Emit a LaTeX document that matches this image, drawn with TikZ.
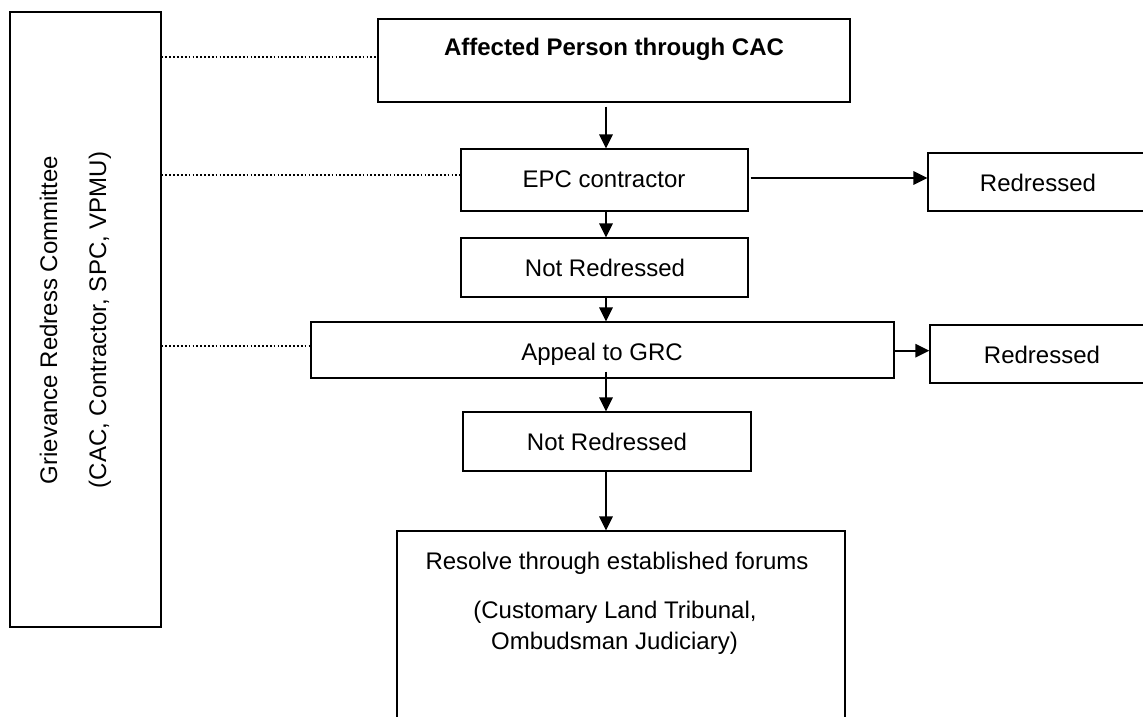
\documentclass[tikz,border=0pt]{standalone}
\usepackage{fontspec}
\setmainfont{Liberation Sans}
\usetikzlibrary{arrows.meta,fit,calc}
\tikzset{
  box/.style={draw=black, line width=0.9pt, inner sep=0pt, fill=none},
  txt/.style={inner sep=0pt, anchor=base, font=\fontsize{18}{21}\selectfont},
  arr/.style={draw=black, line width=1.5pt, -{Triangle[length=10.5pt,width=10pt]}},
  dots/.style={draw=black, line width=1.3pt, dash pattern=on 1.3pt off 1.6pt},
}
\begin{document}
\begin{tikzpicture}[x=0.75pt,y=-0.75pt]
\useasboundingbox (0,0) rectangle (1143,717);
\clip (0,0) rectangle (1143,717);
\coordinate (ax) at (606,0);
% boxes
\node[box, fit={(10,12) (161,627)}] (grc) {};
\node[box, fit={(378,19) (850,102)}] (top) {};
\node[box, fit={(461,149) (748,211)}] (epc) {};
\node[box, fit={(928,153) (1150,211)}] (red1) {};
\node[box, fit={(461,238) (748,297)}] (nr1) {};
\node[box, fit={(311,322) (894,378)}] (appeal) {};
\node[box, fit={(930,325) (1150,383)}] (red2) {};
\node[box, fit={(463,412) (751,471)}] (nr2) {};
\node[box, fit={(397,531) (845,760)}] (res) {};
% texts
\node[txt, rotate=90] (grc-t1) at (57,320) {Grievance Redress Committee};
\node[txt, rotate=90] (grc-t2) at (106,320) {(CAC, Contractor, SPC, VPMU)};
\node[txt, font=\fontsize{18}{21}\selectfont\bfseries] (top-t) at (614,56) {Affected Person through CAC};
\node[txt] (epc-t) at (604,187) {EPC contractor};
\node[txt] (red1-t) at (1038,191.5) {Redressed};
\node[txt] (nr1-t) at (605,276) {Not Redressed};
\node[txt] (appeal-t) at (602,360.5) {Appeal to GRC};
\node[txt] (red2-t) at (1042,363) {Redressed};
\node[txt] (nr2-t) at (607,450) {Not Redressed};
\node[txt] (res-t1) at (617,569.5) {Resolve through established forums};
\node[txt] (res-t2) at (615,618) {(Customary Land Tribunal,};
\node[txt] (res-t3) at (614.5,649) {Ombudsman Judiciary)};
% arrows
\draw[arr] ($(top.south -| ax)+(0,4)$) -- (epc.north -| ax);
\draw[arr] (epc.south -| ax) -- (nr1.north -| ax);
\draw[arr] (nr1.south -| ax) -- (appeal.north -| ax);
\draw[arr] ($(appeal.south -| ax)+(0,-7)$) -- (nr2.north -| ax);
\draw[arr] (nr2.south -| ax) -- (res.north -| ax);
\draw[arr] ($(epc.east)+(2,-2)$) -- ($(epc.east -| red1.west)+(0,-2)$);
\draw[arr] ($(appeal.east)+(0,0.7)$) -- ($(appeal.east -| red2.west)+(0,0.7)$);
% dotted links
\draw[dots] ($(grc.east |- top.west)+(0,-3.5)$) -- ($(top.west)+(0,-3.5)$);
\draw[dots] ($(grc.east |- epc.west)+(0,-5)$) -- ($(epc.west)+(0,-5)$);
\draw[dots] ($(grc.east |- appeal.west)+(0,-4)$) -- ($(appeal.west)+(0,-4)$);
\end{tikzpicture}
\end{document}
